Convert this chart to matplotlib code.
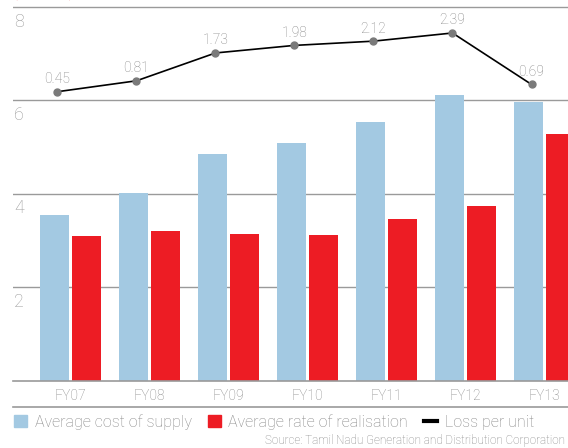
import numpy as np
import matplotlib
matplotlib.use('Agg')
import matplotlib.pyplot as plt
from matplotlib.lines import Line2D
from matplotlib.patches import Patch

# data
years = ['FY07', 'FY08', 'FY09', 'FY10', 'FY11', 'FY12', 'FY13']
cost_of_supply = [3.54, 4.01, 4.85, 5.08, 5.53, 6.11, 5.97]
rate_of_realisation = [3.09, 3.20, 3.14, 3.12, 3.46, 3.73, 5.28]
loss_per_unit = [0.45, 0.81, 1.73, 1.98, 2.12, 2.39, 0.69]
yticks = [2, 4, 6, 8]

blue = '#a3c9e2'
red = '#ed1c24'
grey = '#858585'

plt.rcParams['font.family'] = ['Roboto', 'DejaVu Sans']
plt.rcParams['font.weight'] = 'light'

fig = plt.figure(figsize=(5.68, 4.48), dpi=100)
ax = fig.add_axes([13 / 568, 1 - 380.7 / 448, 1 - 13 / 568, 380.7 / 448])

x = np.arange(len(years))
w = 0.367
ax.bar(x - 0.2025, cost_of_supply, w, color=blue, zorder=2)
ax.bar(x + 0.2025, rate_of_realisation, w, color=red, zorder=2)

ax.set_xlim(-0.728, 6.297)
ax.set_ylim(0, 8.15)
for t in yticks:
    ax.axhline(t, color='#9a9a9a', lw=1, zorder=1)
    ax.text(0.002, t - 0.12, str(t), transform=ax.get_yaxis_transform(),
            ha='left', va='top', fontsize=13, color='#9a9a9a')

ax.set_yticks([])
ax.set_xticks(x)
ax.set_xticklabels(years, fontsize=10, color=grey)
ax.tick_params(axis='x', length=0, pad=6)
for s in ['top', 'right', 'left']:
    ax.spines[s].set_visible(False)
ax.spines['bottom'].set_color('#9a9a9a')
ax.spines['bottom'].set_linewidth(1.2)

# loss per unit on a hidden second scale
ax2 = ax.twinx()
ax2.set_ylim(-9.10, 3.48)
ax2.axis('off')
xl = x - 0.165
ax2.plot(xl, loss_per_unit, color='black', lw=1.2, zorder=3)
ax2.plot(xl, loss_per_unit, 'o', color='#7a7a7a', ms=5, zorder=4)
for xi, v in zip(xl, loss_per_unit):
    ax2.annotate(f'{v:.2f}', (xi, v), xytext=(0, 4), textcoords='offset points',
                 ha='center', va='bottom', fontsize=10, color=grey)

fig.add_artist(Line2D([13 / 568, 1], [1 - 407 / 448, 1 - 407 / 448],
                      color='#9a9a9a', lw=1.2))

handles = [Patch(color=blue), Patch(color=red), Line2D([0], [0], color='black', lw=3)]
labels = ['Average cost of supply', 'Average rate of realisation', 'Loss per unit']
fig.legend(handles, labels, loc='center left', bbox_to_anchor=(14 / 568, 1 - 422 / 448),
           ncol=3, frameon=False, fontsize=11.5, labelcolor=grey,
           handlelength=0.8, handleheight=0.8, handletextpad=0.5,
           columnspacing=1.0, borderpad=0, borderaxespad=0)

fig.text(0.995, 1 - 440 / 448, 'Source: Tamil Nadu Generation and Distribution Corporation',
         fontsize=8.4, color=grey, ha='right', va='center')
fig.text(13 / 568, 1 - 1 / 448, '(Rs/kWh)', fontsize=11, color=red, ha='left', va='bottom')

fig.savefig('out.png', dpi=100)
